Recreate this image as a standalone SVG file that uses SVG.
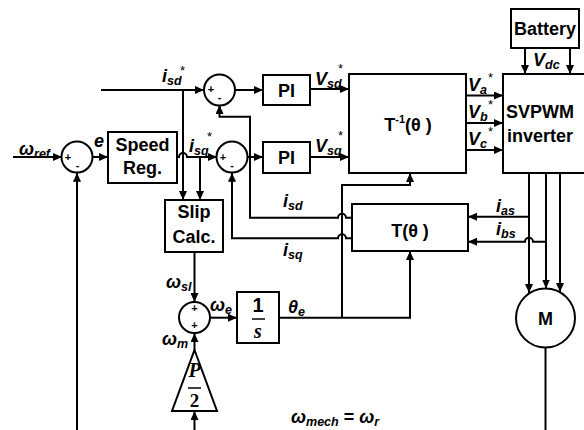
<svg xmlns="http://www.w3.org/2000/svg" width="584" height="430" viewBox="0 0 584 430">
<defs>
<marker id="ah" markerUnits="userSpaceOnUse" markerWidth="10" markerHeight="8" refX="9" refY="4" orient="auto">
<path d="M0,0 L9,4 L0,8 z" fill="#000"/>
</marker>
<style>
.box{fill:#fff;stroke:#000;stroke-width:2}
.w{fill:none;stroke:#000;stroke-width:2;marker-end:url(#ah)}
.ln{fill:none;stroke:#000;stroke-width:2}
.bl{font-family:"Liberation Sans",Arial,sans-serif;font-weight:bold;font-size:18px;text-anchor:middle;fill:#000}
.lb{font-family:"Liberation Sans",Arial,sans-serif;font-weight:bold;font-style:italic;font-size:18px;fill:#000}
.sb{font-size:12.5px}
.st{font-family:"Liberation Sans",Arial,sans-serif;font-size:13px;fill:#000}
.sg{font-family:"Liberation Sans",Arial,sans-serif;font-size:11px;font-weight:bold;text-anchor:middle;fill:#000}
</style>
</defs>
<rect width="584" height="430" fill="#fff"/>

<g id="connectors">
<path class="w" d="M13,157 H62"/>
<path class="w" d="M92,157 H108"/>
<path class="w" d="M177,157 H179 A4,4 0 0 1 187,157 H217"/>
<path class="w" d="M200,157 V200"/>
<path class="w" d="M101,90 H204"/>
<path class="w" d="M183,90 V200"/>
<path class="w" d="M235,90 H263"/>
<path class="w" d="M247,157 H263"/>
<path class="w" d="M310,89 H349"/>
<path class="w" d="M310,157 H349"/>
<path class="w" d="M466,95.5 H503"/>
<path class="w" d="M466,123 H503"/>
<path class="w" d="M466,150 H503"/>
<path class="w" d="M525,48 V74"/>
<path class="w" d="M570,48 V74"/>
<path class="w" d="M529,173 V293"/>
<path class="w" d="M546,173 V288.5"/>
<path class="w" d="M560,173 V292"/>
<path class="w" d="M529,216.7 H468"/>
<path class="w" d="M546,241.7 H533 A4,4 0 0 0 525,241.7 H468"/>
<path class="w" d="M352,217.7 H346 A4,4 0 0 0 338,217.7 H250 V116.7 H219.5 V105"/>
<path class="w" d="M352,238.3 H346 A4,4 0 0 0 338,238.3 H232 V172.7"/>
<path class="w" d="M194.5,252 V302"/>
<path class="w" d="M210,317.7 H237"/>
<path class="w" d="M279,317.7 H410 V251"/>
<path class="w" d="M342,317.7 V185 H410 V173"/>
<path class="ln" d="M545.5,347.5 V430"/>
<path class="w" d="M77,430 V172.7"/>
<path class="w" d="M194.5,430 V411"/>
<path class="w" d="M194.5,350 V333"/>
</g>

<g id="sum1">
<circle class="box" cx="77" cy="157" r="15.5"/>
<text class="sg" x="68" y="161">+</text>
<text class="sg" x="77.5" y="169">-</text>
</g>
<g id="sumD">
<circle class="box" cx="219.5" cy="90" r="15.5"/>
<text class="sg" x="211" y="93">+</text>
<text class="sg" x="219.5" y="101">-</text>
</g>
<g id="sumQ">
<circle class="box" cx="232" cy="157" r="15.5"/>
<text class="sg" x="223" y="161">+</text>
<text class="sg" x="232" y="169">-</text>
</g>
<g id="sumW">
<circle class="box" cx="194.5" cy="317.5" r="15.5"/>
<text class="sg" x="194.5" y="312">+</text>
<text class="sg" x="194.5" y="329">+</text>
</g>

<g id="speedreg">
<rect class="box" x="108" y="132" width="69" height="51"/>
<text class="bl" x="142.5" y="151">Speed</text>
<text class="bl" x="142.5" y="174">Reg.</text>
</g>
<g id="pid">
<rect class="box" x="263" y="75" width="47" height="30"/>
<text class="bl" x="286.5" y="97">PI</text>
</g>
<g id="piq">
<rect class="box" x="263" y="142" width="47" height="31"/>
<text class="bl" x="286.5" y="164">PI</text>
</g>
<g id="tinv">
<rect class="box" x="349" y="74" width="117" height="99"/>
<text class="bl" x="408" y="131">T<tspan font-size="11" dy="-8">-1</tspan><tspan dy="8">(θ )</tspan></text>
</g>
<g id="battery">
<rect class="box" x="511" y="9" width="68" height="39"/>
<text class="bl" x="545" y="35">Battery</text>
</g>
<g id="svpwm">
<rect class="box" x="503" y="74" width="90" height="99"/>
<text class="bl" x="540" y="118">SVPWM</text>
<text class="bl" x="540" y="142">inverter</text>
</g>
<g id="slip">
<rect class="box" x="165" y="200" width="58" height="52"/>
<text class="bl" x="194" y="218">Slip</text>
<text class="bl" x="194" y="243">Calc.</text>
</g>
<g id="tfwd">
<rect class="box" x="352" y="204" width="116" height="47"/>
<text class="bl" x="410" y="237">T(θ )</text>
</g>
<g id="integrator">
<rect class="box" x="237" y="292" width="42" height="51"/>
<text class="bl" x="258" y="312" style="font-size:20px">1</text>
<line x1="252" y1="319" x2="265" y2="319" stroke="#000" stroke-width="1.5"/>
<text x="258" y="338" style="font-family:'Liberation Serif',serif;font-weight:bold;font-style:italic;font-size:20px;text-anchor:middle">s</text>
</g>
<g id="gain">
<path class="box" d="M194.5,350 L217,411 L172,411 Z"/>
<text x="194.5" y="377" style="font-family:'Liberation Serif',serif;font-weight:bold;font-style:italic;font-size:20px;text-anchor:middle">P</text>
<line x1="188" y1="388" x2="201" y2="388" stroke="#000" stroke-width="1.5"/>
<text x="194.5" y="407" style="font-family:'Liberation Serif',serif;font-weight:bold;font-size:19px;text-anchor:middle">2</text>
</g>
<g id="motor">
<circle class="box" cx="545.5" cy="318" r="29.5"/>
<text class="bl" x="545.5" y="325">M</text>
</g>

<g id="labels">
<text class="lb" x="19" y="155">ω<tspan class="sb" dy="3">ref</tspan></text>
<text class="lb" x="94" y="147">e</text>
<text class="lb" x="162" y="82">i<tspan class="sb" dy="3">sd</tspan></text>
<text class="st" x="180" y="75">*</text>
<text class="lb" x="189" y="152">i<tspan class="sb" dy="3">sq</tspan></text>
<text class="st" x="207" y="141">*</text>
<text class="lb" x="315" y="85">V<tspan class="sb" dy="3">sd</tspan></text>
<text class="st" x="338" y="73">*</text>
<text class="lb" x="315" y="152">V<tspan class="sb" dy="3">sq</tspan></text>
<text class="st" x="338" y="140">*</text>
<text class="lb" x="468" y="91">V<tspan class="sb" dy="3">a</tspan></text>
<text class="st" x="488" y="82">*</text>
<text class="lb" x="468" y="118">V<tspan class="sb" dy="3">b</tspan></text>
<text class="st" x="488" y="109">*</text>
<text class="lb" x="468" y="145">V<tspan class="sb" dy="3">c</tspan></text>
<text class="st" x="488" y="136">*</text>
<text class="lb" x="533" y="66">V<tspan class="sb" dy="3">dc</tspan></text>
<text class="lb" x="496" y="212">i<tspan class="sb" dy="3">as</tspan></text>
<text class="lb" x="496" y="235">i<tspan class="sb" dy="3">bs</tspan></text>
<text class="lb" x="283" y="207">i<tspan class="sb" dy="3">sd</tspan></text>
<text class="lb" x="283" y="256">i<tspan class="sb" dy="3">sq</tspan></text>
<text class="lb" x="166" y="288">ω<tspan class="sb" dy="3">sl</tspan></text>
<text class="lb" x="162" y="345">ω<tspan class="sb" dy="3">m</tspan></text>
<text class="lb" x="210" y="311">ω<tspan class="sb" dy="3">e</tspan></text>
<text class="lb" x="288" y="313">θ<tspan class="sb" dy="3">e</tspan></text>
<text class="lb" x="291" y="423">ω<tspan class="sb" dy="3">mech</tspan><tspan dy="-3" font-style="normal"> = </tspan>ω<tspan class="sb" dy="3">r</tspan></text>
</g>
</svg>
